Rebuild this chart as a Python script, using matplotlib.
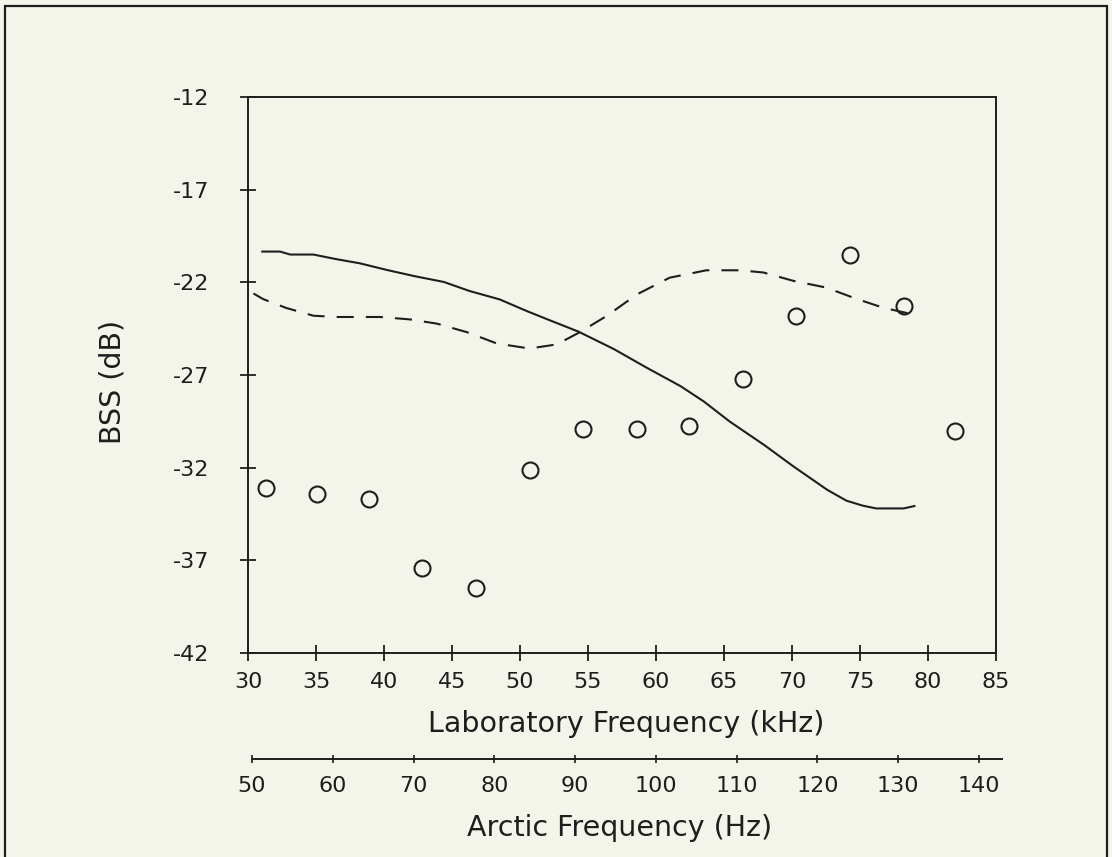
import matplotlib
matplotlib.use("Agg")
import matplotlib.pyplot as plt
from matplotlib.patches import Rectangle

# ---- data ----
pts_freq = [31.3, 35.1, 38.9, 42.8, 46.8, 50.7, 54.6, 58.6, 62.4, 66.4, 70.3, 74.3, 78.2, 82.0]
pts_bss = [-33.1, -33.4, -33.7, -37.4, -38.5, -32.1, -29.9, -29.9, -29.75, -27.2, -23.8, -20.5, -23.3, -30.0]

solid_freq = [31.05, 32.35, 33.1, 34.8, 36.5, 38.2, 40.2, 42.2, 44.4, 46.3, 48.5, 50.5, 52.2, 54.3,
              56.9, 59.3, 61.8, 63.5, 65.4, 68.0, 70.1, 72.6, 74.0, 75.2, 76.2, 78.2, 79.0]
solid_bss = [-20.34, -20.34, -20.5, -20.5, -20.75, -20.97, -21.33, -21.66, -21.98, -22.47, -22.92,
             -23.55, -24.05, -24.66, -25.6, -26.6, -27.6, -28.42, -29.5, -30.8, -31.93, -33.2,
             -33.78, -34.05, -34.2, -34.2, -34.07]

dash_freq = [30.4, 31.1, 32.8, 34.8, 36.5, 39.7, 41.9, 43.9, 46.1, 48.3, 50.7, 52.7, 54.4, 56.4,
             58.6, 61.0, 63.7, 66.2, 67.9, 70.1, 72.5, 74.7, 76.7, 78.9]
dash_bss = [-22.6, -22.9, -23.38, -23.8, -23.87, -23.87, -24.0, -24.23, -24.69, -25.3, -25.57,
            -25.35, -24.69, -23.8, -22.65, -21.75, -21.35, -21.35, -21.47, -21.92, -22.28, -22.88,
            -23.37, -23.73]

lab_ticks = [30, 35, 40, 45, 50, 55, 60, 65, 70, 75, 80, 85]
bss_ticks = [-42, -37, -32, -27, -22, -17, -12]
arctic_ticks = [50, 60, 70, 80, 90, 100, 110, 120, 130, 140]

bg = "#f4f5ea"
ink = "#1e1e1e"
W, H = 1112, 857
plt.rcParams['font.family'] = ['DejaVu Sans']
plt.rcParams['axes.unicode_minus'] = False

fig = plt.figure(figsize=(W / 100, H / 100), dpi=100, facecolor=bg)

# outer frame
fig.patches.append(Rectangle((5 / W, -0.05), (1107 - 5) / W, 1.05 - 6 / H, transform=fig.transFigure,
                             fill=False, edgecolor=ink, linewidth=1.6, clip_on=False))

ax = fig.add_axes([248 / W, 1 - 653 / H, (996 - 248) / W, (653 - 97) / H])
ax.set_facecolor(bg)
ax.plot(solid_freq, solid_bss, color=ink, lw=1.5)
ax.plot(dash_freq, dash_bss, color=ink, lw=1.5, dashes=(8.2, 5.8))
ax.plot(pts_freq, pts_bss, linestyle='none', marker='o', markersize=11.5,
        markerfacecolor='none', markeredgecolor=ink, markeredgewidth=1.5)

ax.set_xlim(30, 85)
ax.set_ylim(-42, -12)
ax.set_xticks(lab_ticks)
ax.set_yticks(bss_ticks)
for s in ax.spines.values():
    s.set_color(ink)
    s.set_linewidth(1.4)
ax.tick_params(axis='both', direction='inout', length=12, width=1.3, color=ink,
               labelsize=16, labelcolor=ink)
ax.tick_params(axis='x', pad=8)
ax.tick_params(axis='y', pad=22)

ax.set_xlabel("Laboratory Frequency (kHz)", fontsize=20.5, color=ink)
ax.xaxis.set_label_coords(626 / W, 1 - 724 / H, transform=fig.transFigure)
ax.xaxis.label.set_va('center')
ax.set_ylabel("BSS (dB)", fontsize=20.5, color=ink)
ax.yaxis.set_label_coords(112 / W, 1 - 382 / H, transform=fig.transFigure)
ax.yaxis.label.set_va('center')

# secondary (Arctic) axis
ax2 = fig.add_axes([252 / W, 1 - 759 / H, (1002 - 252) / W, 0.0001])
ax2.patch.set_visible(False)
for k in ['top', 'left', 'right']:
    ax2.spines[k].set_visible(False)
ax2.spines['bottom'].set_color(ink)
ax2.spines['bottom'].set_linewidth(1.4)
ax2.set_yticks([])
ax2.set_xlim(50, 142.85)
ax2.set_xticks(arctic_ticks)
ax2.set_xticks([50], minor=True)
ax2.tick_params(axis='x', which='major', direction='inout', length=6, width=1.2, color=ink,
                labelsize=16, labelcolor=ink, pad=9)
ax2.tick_params(axis='x', which='minor', direction='inout', length=10, width=1.2, color=ink)
ax2.set_xlabel("Arctic Frequency (Hz)", fontsize=20.5, color=ink)
ax2.xaxis.set_label_coords(620 / W, 1 - 828 / H, transform=fig.transFigure)
ax2.xaxis.label.set_va('center')

fig.savefig("out.png", dpi=100, facecolor=bg)
